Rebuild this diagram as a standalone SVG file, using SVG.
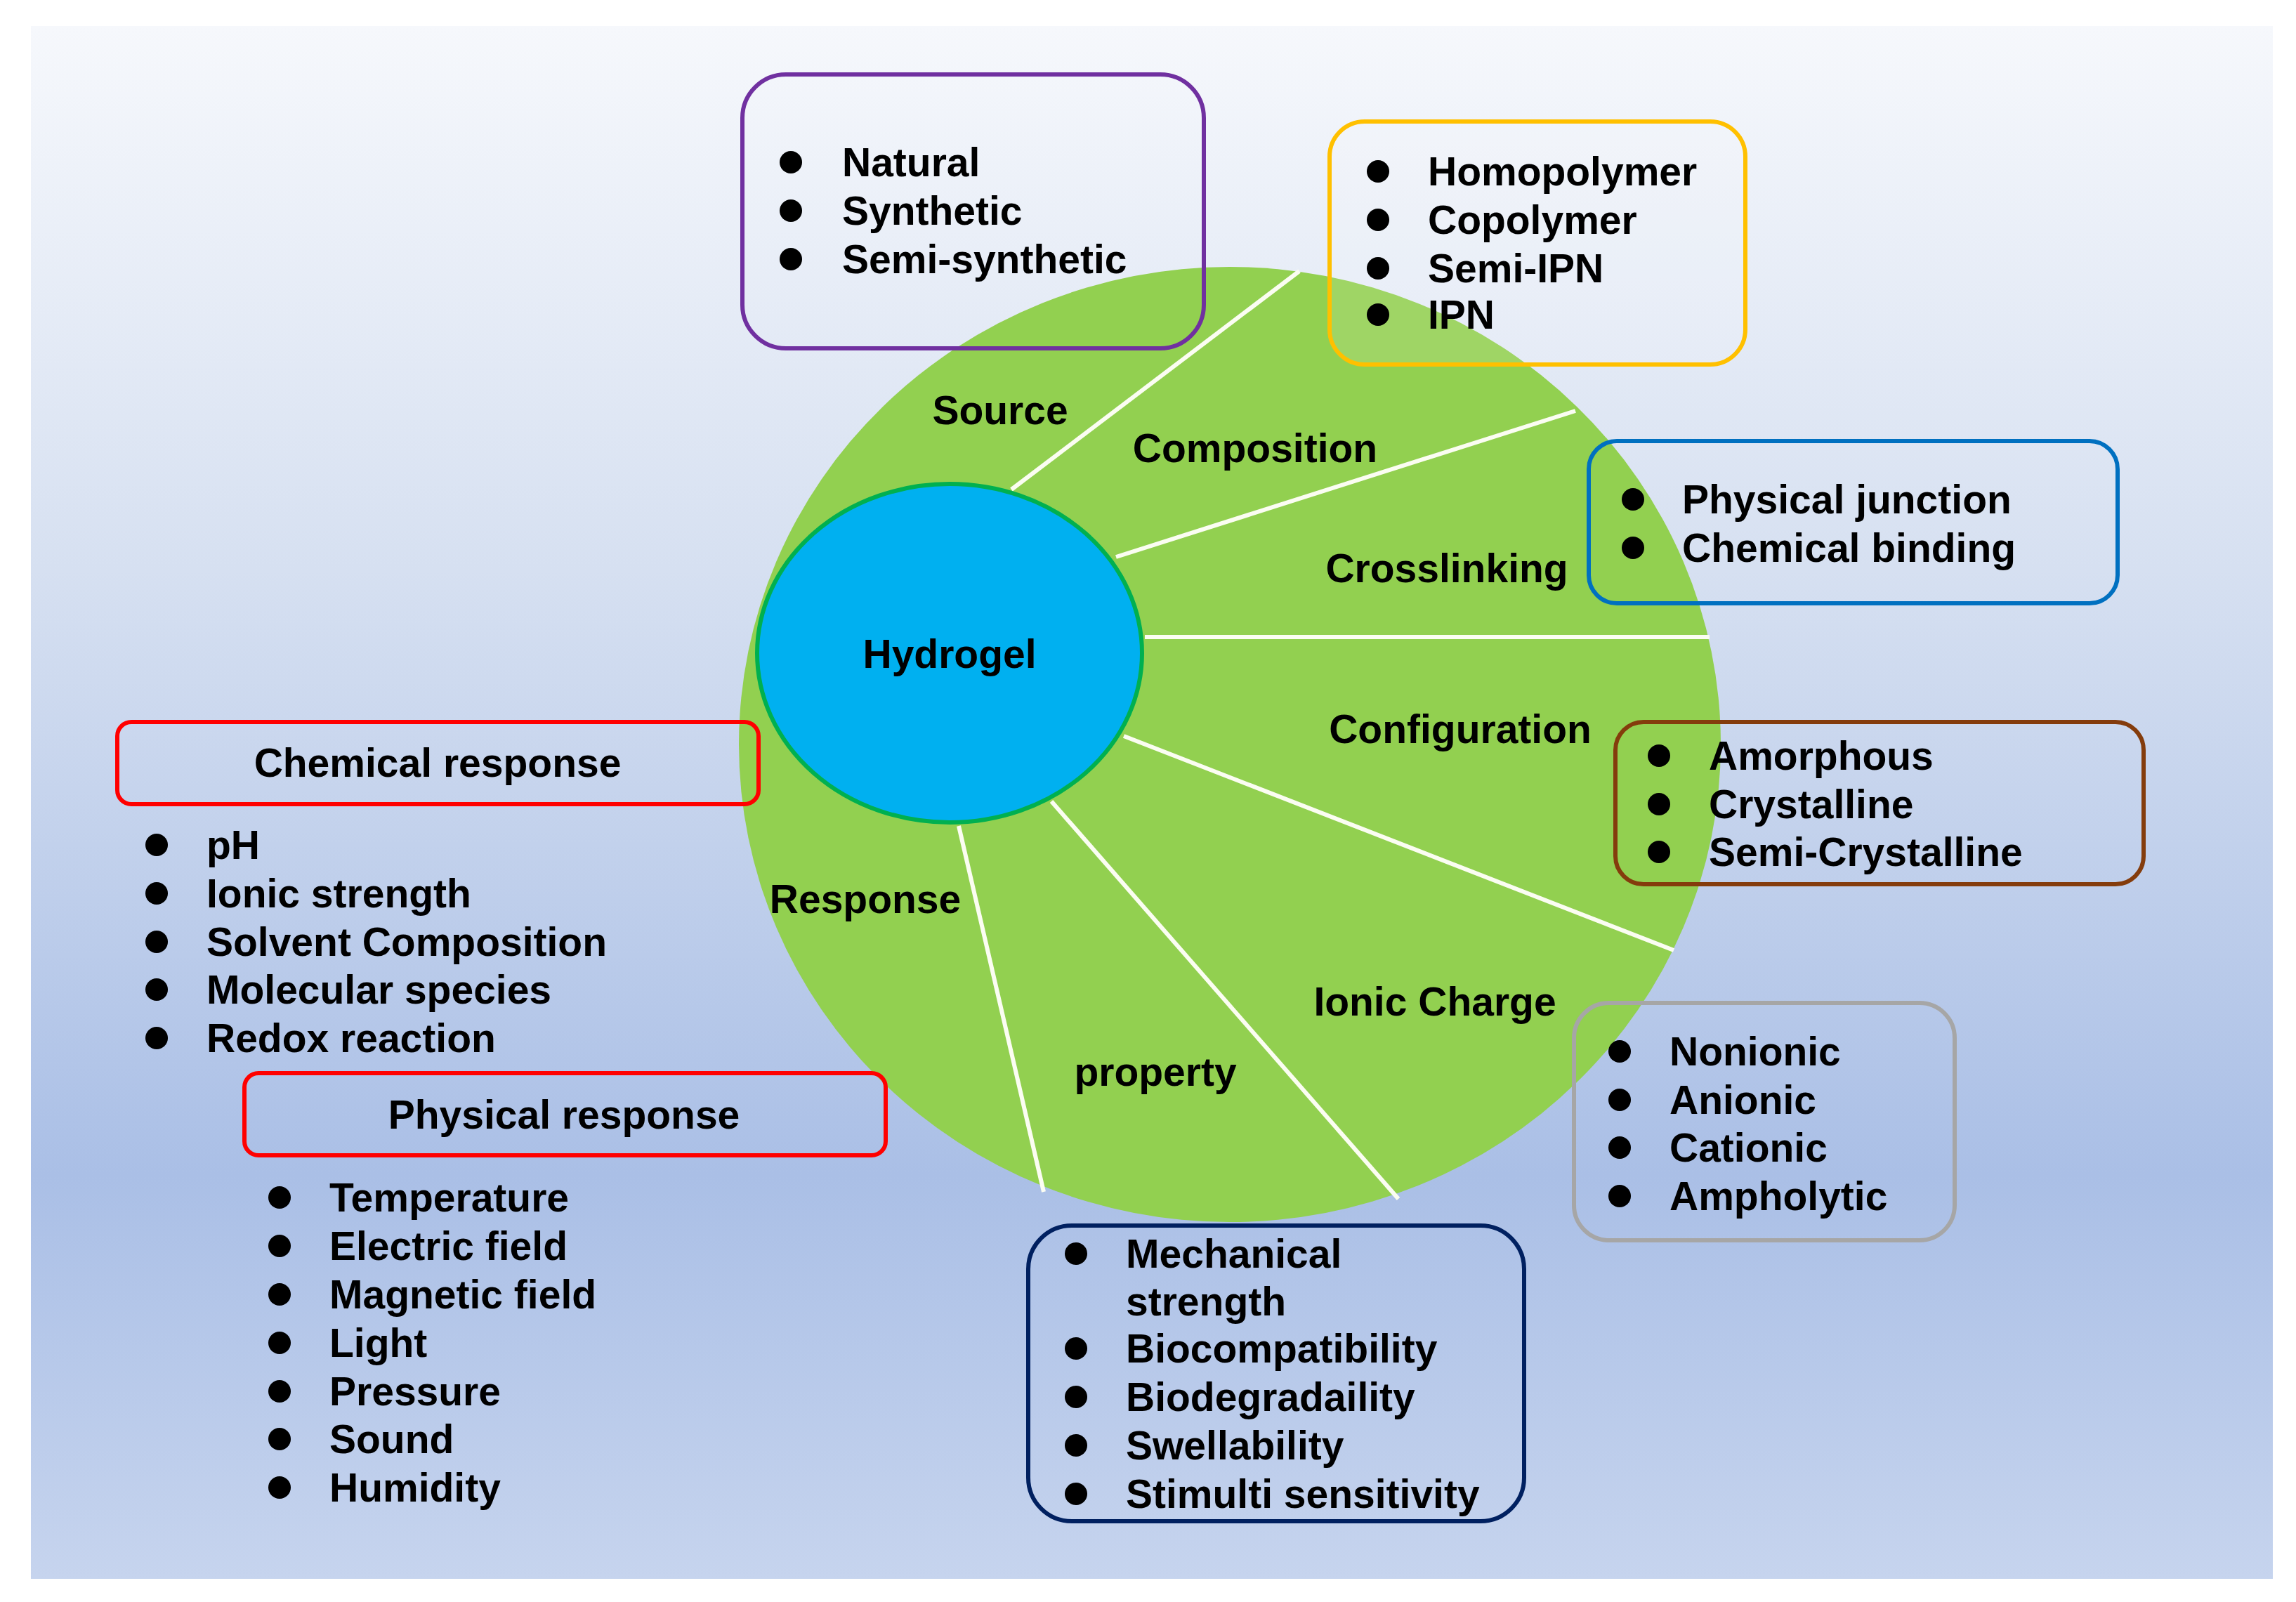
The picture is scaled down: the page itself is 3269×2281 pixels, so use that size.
<svg xmlns="http://www.w3.org/2000/svg" width="3269" height="2281" viewBox="0 0 3269 2281">
<defs>
<linearGradient id="bg" x1="0" y1="0" x2="0" y2="1">
<stop offset="0" stop-color="#f6f8fc"/>
<stop offset="0.35" stop-color="#d6e0f1"/>
<stop offset="0.74" stop-color="#aabfe6"/>
<stop offset="1" stop-color="#c6d4ee"/>
</linearGradient>
<style>
text{font-family:"Liberation Sans",Arial,sans-serif;font-weight:bold;font-size:57px;fill:#000}
.mid{text-anchor:middle}
.box{fill:none;stroke-width:6}
.dot{fill:#000}
.div{stroke:#fbfdf2;stroke-width:6;fill:none}
</style>
</defs>
<rect x="0" y="0" width="3269" height="2281" fill="#ffffff"/>
<rect x="44" y="37" width="3192" height="2211" fill="url(#bg)"/>

<g id="wheel">
<ellipse cx="1751" cy="1060" rx="699" ry="680" fill="#92d050"/>
</g>

<g id="connectors">
<line class="div" x1="1440" y1="697" x2="1850" y2="386"/>
<line class="div" x1="1589" y1="793" x2="2243" y2="585"/>
<line class="div" x1="1630" y1="907" x2="2434" y2="907"/>
<line class="div" x1="1600" y1="1048" x2="2383" y2="1353"/>
<line class="div" x1="1497" y1="1141" x2="1991" y2="1707"/>
<line class="div" x1="1365" y1="1176" x2="1486" y2="1697"/>
</g>

<g id="hydrogel">
<ellipse cx="1352" cy="930" rx="274" ry="241" fill="#00b0f0" stroke="#00b050" stroke-width="6"/>
<text class="mid" x="1352" y="951">Hydrogel</text>
</g>

<g id="sector-labels">
<text class="mid" x="1424" y="604">Source</text>
<text class="mid" x="1787" y="658">Composition</text>
<text class="mid" x="2060" y="829">Crosslinking</text>
<text class="mid" x="2079" y="1058">Configuration</text>
<text class="mid" x="2043" y="1446">Ionic Charge</text>
<text class="mid" x="1645" y="1546">property</text>
<text class="mid" x="1232" y="1300">Response</text>
</g>

<g id="source-box">
<rect class="box" x="1057" y="106" width="657" height="390" rx="62" stroke="#7030a0"/>
<circle class="dot" cx="1126" cy="231" r="16"/>
<circle class="dot" cx="1126" cy="300" r="16"/>
<circle class="dot" cx="1126" cy="369" r="16"/>
<text x="1199" y="251">Natural</text>
<text x="1199" y="320">Synthetic</text>
<text x="1199" y="389">Semi-synthetic</text>
</g>

<g id="composition-box">
<rect class="box" x="1893" y="173" width="592" height="346" rx="50" stroke="#ffc000" style="fill:#ffffff;fill-opacity:0.12"/>
<circle class="dot" cx="1962" cy="244" r="16"/>
<circle class="dot" cx="1962" cy="313" r="16"/>
<circle class="dot" cx="1962" cy="382" r="16"/>
<circle class="dot" cx="1962" cy="448" r="16"/>
<text x="2033" y="264">Homopolymer</text>
<text x="2033" y="333">Copolymer</text>
<text x="2033" y="402">Semi-IPN</text>
<text x="2033" y="468">IPN</text>
</g>

<g id="crosslinking-box">
<rect class="box" x="2262" y="628" width="753" height="231" rx="40" stroke="#0070c0"/>
<circle class="dot" cx="2325" cy="711" r="16"/>
<circle class="dot" cx="2325" cy="780" r="16"/>
<text x="2395" y="731">Physical junction</text>
<text x="2395" y="800">Chemical binding</text>
</g>

<g id="configuration-box">
<rect class="box" x="2300" y="1028" width="752" height="231" rx="40" stroke="#843c0c"/>
<circle class="dot" cx="2362" cy="1076" r="16"/>
<circle class="dot" cx="2362" cy="1145" r="16"/>
<circle class="dot" cx="2362" cy="1213" r="16"/>
<text x="2433" y="1096">Amorphous</text>
<text x="2433" y="1165">Crystalline</text>
<text x="2433" y="1233">Semi-Crystalline</text>
</g>

<g id="ionic-box">
<rect class="box" x="2241" y="1428" width="542" height="338" rx="50" stroke="#a6a6a6" stroke-width="7"/>
<circle class="dot" cx="2306" cy="1497" r="16"/>
<circle class="dot" cx="2306" cy="1566" r="16"/>
<circle class="dot" cx="2306" cy="1634" r="16"/>
<circle class="dot" cx="2306" cy="1703" r="16"/>
<text x="2377" y="1517">Nonionic</text>
<text x="2377" y="1586">Anionic</text>
<text x="2377" y="1654">Cationic</text>
<text x="2377" y="1723">Ampholytic</text>
</g>

<g id="property-box">
<rect class="box" x="1464" y="1745" width="706" height="421" rx="62" stroke="#002060" stroke-width="7"/>
<circle class="dot" cx="1532" cy="1785" r="16"/>
<circle class="dot" cx="1532" cy="1920" r="16"/>
<circle class="dot" cx="1532" cy="1989" r="16"/>
<circle class="dot" cx="1532" cy="2058" r="16"/>
<circle class="dot" cx="1532" cy="2127" r="16"/>
<text x="1603" y="1805">Mechanical</text>
<text x="1603" y="1873">strength</text>
<text x="1603" y="1940">Biocompatibility</text>
<text x="1603" y="2009">Biodegradaility</text>
<text x="1603" y="2078">Swellability</text>
<text x="1603" y="2147">Stimulti sensitivity</text>
</g>

<g id="chemical-response">
<rect class="box" x="167" y="1028" width="913" height="117" rx="20" stroke="#ff0000" stroke-width="7"/>
<text class="mid" x="623" y="1106">Chemical response</text>
<circle class="dot" cx="223" cy="1203" r="16"/>
<circle class="dot" cx="223" cy="1272" r="16"/>
<circle class="dot" cx="223" cy="1341" r="16"/>
<circle class="dot" cx="223" cy="1409" r="16"/>
<circle class="dot" cx="223" cy="1478" r="16"/>
<text x="294" y="1223">pH</text>
<text x="294" y="1292">Ionic strength</text>
<text x="294" y="1361">Solvent Composition</text>
<text x="294" y="1429">Molecular species</text>
<text x="294" y="1498">Redox reaction</text>
</g>

<g id="physical-response">
<rect class="box" x="348" y="1528" width="913" height="117" rx="20" stroke="#ff0000" stroke-width="7"/>
<text class="mid" x="803" y="1607">Physical response</text>
<circle class="dot" cx="398" cy="1705" r="16"/>
<circle class="dot" cx="398" cy="1774" r="16"/>
<circle class="dot" cx="398" cy="1843" r="16"/>
<circle class="dot" cx="398" cy="1912" r="16"/>
<circle class="dot" cx="398" cy="1981" r="16"/>
<circle class="dot" cx="398" cy="2049" r="16"/>
<circle class="dot" cx="398" cy="2118" r="16"/>
<text x="469" y="1725">Temperature</text>
<text x="469" y="1794">Electric field</text>
<text x="469" y="1863">Magnetic field</text>
<text x="469" y="1932">Light</text>
<text x="469" y="2001">Pressure</text>
<text x="469" y="2069">Sound</text>
<text x="469" y="2138">Humidity</text>
</g>
</svg>
